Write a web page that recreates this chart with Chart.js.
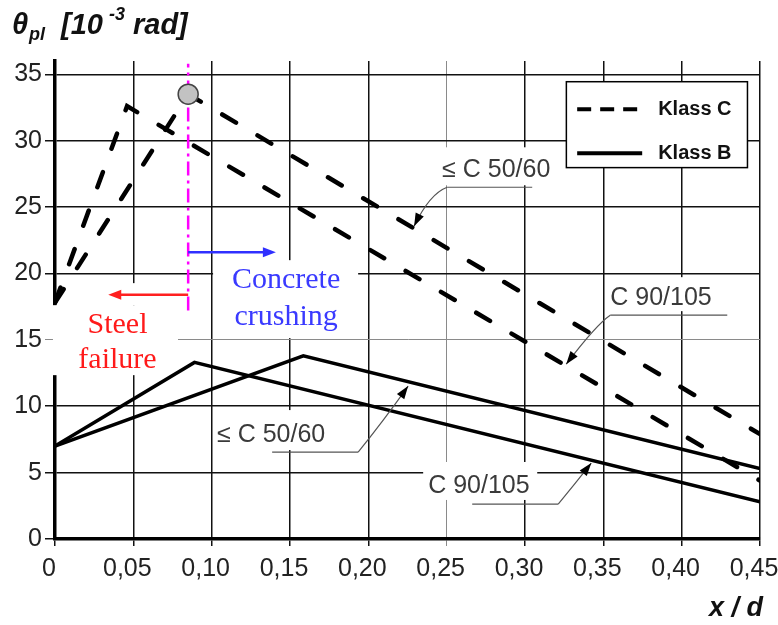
<!DOCTYPE html>
<html lang="en">
<head>
  <meta charset="UTF-8">
  <title>Plastic rotation vs x/d</title>
  <script src="https://cdn.jsdelivr.net/npm/chart.js"></script>
  <style>
    body { margin: 0; padding: 0; background: #fff; }
    canvas { display: block; }
  </style>
</head>
<body>
  <canvas id="chart" width="778" height="625"></canvas>

  <script>
    // Klass C (dashed)
    const xC50 = [0, 0.085, 0.45];
    const yC50 = [17.8, 33.5, 7.9];
    const xC90 = [0, 0.046, 0.45];
    const yC90 = [17.8, 32.6, 4.4];
    // Klass B (solid)
    const xB50 = [0, 0.1585, 0.45];
    const yB50 = [7.0, 13.8, 5.3];
    const xB90 = [0, 0.089, 0.45];
    const yB90 = [7.0, 13.3, 2.8];
    // limit between steel failure and concrete crushing
    const limitX = [0.085, 0.085];
    const limitY = [17.2, 35.8];
    const peakX = [0.085];
    const peakY = [33.5];
    const crushArrowX = [0.085, 0.141];
    const crushArrowY = 21.6;
    const steelArrowX = [0.085, 0.034];
    const steelArrowY = 18.4;

    const xTicks = [0, 0.05, 0.10, 0.15, 0.20, 0.25, 0.30, 0.35, 0.40, 0.45];
    const yTicks = [0, 5, 10, 15, 20, 25, 30, 35];

    const pts = (xs, ys) => xs.map((x, i) => ({ x, y: ys[i] }));

    // white label backgrounds [x0, x1, y0, y1] in data units
    const whiteBoxes = [
      [-0.0013, 0.0785, 12.34, 17.61],
      [0.0255, 0.0785, 17.61, 19.27],
      [0.1009, 0.1935, 15.13, 21.0],
      [0.2446, 0.3225, 26.64, 29.5],
      [0.3519, 0.4259, 17.16, 19.72],
      [0.1009, 0.1820, 6.70, 9.71],
      [0.2350, 0.3078, 2.94, 5.80]
    ];

    const leaders = [
      { text: '\u2264 C 50/60', tx: 0.2471, ty: 27.25, under: [0.2503, 0.3046, 26.49],
        curve: [[0.2503, 26.49], [0.2395, 25.52], [0.2292, 23.56]] },
      { text: 'C 90/105', tx: 0.3544, ty: 17.61, under: [0.3544, 0.4291, 16.86],
        curve: [[0.3544, 16.86], [0.3429, 15.58], [0.3263, 13.17]] },
      { text: '\u2264 C 50/60', tx: 0.1034, ty: 7.30, under: [0.1386, 0.1935, 6.55],
        curve: [[0.1935, 6.55], [0.2095, 8.96], [0.2254, 11.52]] },
      { text: 'C 90/105', tx: 0.2382, ty: 3.46, under: [0.2663, 0.3212, 2.63],
        curve: [[0.3212, 2.63], [0.3321, 4.21], [0.3423, 5.72]] }
    ];

    function arrowHead(ctx, x0, y0, x1, y1, len, half) {
      const a = Math.atan2(y1 - y0, x1 - x0);
      const c = Math.cos(a), s = Math.sin(a);
      ctx.beginPath();
      ctx.moveTo(x1, y1);
      ctx.lineTo(x1 - len * c + half * s, y1 - len * s - half * c);
      ctx.lineTo(x1 - len * c - half * s, y1 - len * s + half * c);
      ctx.closePath();
      ctx.fill();
    }

    const decor = {
      id: 'decor',
      beforeDatasetsDraw(chart) {
        const ctx = chart.ctx, px = v => chart.scales.x.getPixelForValue(v), py = v => chart.scales.y.getPixelForValue(v);
        ctx.save();
        ctx.fillStyle = '#fff';
        whiteBoxes.forEach(b => {
          ctx.fillRect(px(b[0]), py(b[3]), px(b[1]) - px(b[0]), py(b[2]) - py(b[3]));
        });
        ctx.restore();
      },
      afterDatasetsDraw(chart) {
        const ctx = chart.ctx, px = v => chart.scales.x.getPixelForValue(v), py = v => chart.scales.y.getPixelForValue(v);
        ctx.save();

        // failure mode arrows
        ctx.lineWidth = 2.5;
        ctx.strokeStyle = ctx.fillStyle = '#3030ff';
        ctx.beginPath();
        ctx.moveTo(px(crushArrowX[0]), py(crushArrowY));
        ctx.lineTo(px(crushArrowX[1]) - 8, py(crushArrowY));
        ctx.stroke();
        arrowHead(ctx, px(crushArrowX[0]), py(crushArrowY), px(crushArrowX[1]), py(crushArrowY), 13, 5);
        ctx.strokeStyle = ctx.fillStyle = '#ff2020';
        ctx.beginPath();
        ctx.moveTo(px(steelArrowX[0]), py(steelArrowY));
        ctx.lineTo(px(steelArrowX[1]) + 8, py(steelArrowY));
        ctx.stroke();
        arrowHead(ctx, px(steelArrowX[0]), py(steelArrowY), px(steelArrowX[1]), py(steelArrowY), 13, 5);

        // failure mode texts
        ctx.textAlign = 'center';
        ctx.textBaseline = 'alphabetic';
        ctx.font = '30px "Liberation Serif", "Times New Roman", serif';
        ctx.fillStyle = '#3a3aff';
        ctx.fillText('Concrete', px(0.1475), py(18.89));
        ctx.fillText('crushing', px(0.1475), py(16.11));
        ctx.fillStyle = '#ff1a1a';
        ctx.fillText('Steel', px(0.0399), py(15.5));
        ctx.fillText('failure', px(0.0399), py(12.87));

        // concrete class labels with leaders
        ctx.textAlign = 'left';
        ctx.font = '25px "Liberation Sans", Arial, sans-serif';
        leaders.forEach(l => {
          ctx.fillStyle = '#3a3a3a';
          ctx.fillText(l.text, px(l.tx), py(l.ty));
          ctx.strokeStyle = '#555';
          ctx.lineWidth = 1.2;
          ctx.beginPath();
          ctx.moveTo(px(l.under[0]), py(l.under[2]));
          ctx.lineTo(px(l.under[1]), py(l.under[2]));
          ctx.stroke();
          const [a, m, t] = l.curve.map(p => [px(p[0]), py(p[1])]);
          const cx = 2 * m[0] - (a[0] + t[0]) / 2, cy = 2 * m[1] - (a[1] + t[1]) / 2;
          ctx.beginPath();
          ctx.moveTo(a[0], a[1]);
          ctx.quadraticCurveTo(cx, cy, t[0], t[1]);
          ctx.stroke();
          ctx.fillStyle = '#000';
          arrowHead(ctx, cx, cy, t[0], t[1], 13, 4.5);
        });

        // legend
        const lx0 = px(0.3264), lx1 = px(0.4420), ly0 = py(34.44), ly1 = py(27.97);
        ctx.fillStyle = '#fff';
        ctx.fillRect(lx0, ly0, lx1 - lx0, ly1 - ly0);
        ctx.strokeStyle = '#000';
        ctx.lineWidth = 1.5;
        ctx.strokeRect(lx0, ly0, lx1 - lx0, ly1 - ly0);
        ctx.lineWidth = 4;
        ctx.setLineDash([14, 9]);
        ctx.beginPath();
        ctx.moveTo(px(0.3333), py(32.36));
        ctx.lineTo(px(0.3748), py(32.36));
        ctx.stroke();
        ctx.setLineDash([]);
        ctx.beginPath();
        ctx.moveTo(px(0.3333), py(29.05));
        ctx.lineTo(px(0.3748), py(29.05));
        ctx.stroke();
        ctx.fillStyle = '#111';
        ctx.font = 'bold 20px "Liberation Sans", Arial, sans-serif';
        ctx.textBaseline = 'middle';
        ctx.fillText('Klass C', px(0.385), py(32.36));
        ctx.fillText('Klass B', px(0.385), py(29.05));
        ctx.restore();
      },
      afterDraw(chart) {
        const ctx = chart.ctx;
        ctx.save();
        ctx.fillStyle = '#111';
        ctx.textBaseline = 'alphabetic';
        ctx.textAlign = 'left';
        const big = 'italic bold 29px "Liberation Sans", Arial, sans-serif';
        const small = 'italic bold 18px "Liberation Sans", Arial, sans-serif';
        ctx.font = big;
        ctx.fillText('\u03b8', 12, 34);
        ctx.font = small;
        ctx.fillText('pl', 29, 40);
        ctx.font = big;
        ctx.fillText('[10', 61, 34);
        let x = 61 + ctx.measureText('[10').width + 6;
        ctx.font = small;
        ctx.fillText('-3', x, 20);
        x += ctx.measureText('-3').width;
        ctx.font = big;
        ctx.fillText(' rad]', x, 34);
        ctx.font = 'italic bold 27px "Liberation Sans", Arial, sans-serif';
        ctx.fillText('x / d', 709, 616);
        ctx.restore();
      }
    };

    const gridColor = dark => dark ? '#111' : '#8a8a8a';

    new Chart(document.getElementById('chart').getContext('2d'), {
      type: 'line',
      data: {
        datasets: [
          { data: pts(peakX, peakY), showLine: false, pointRadius: 10, pointBackgroundColor: '#c2c2c2',
            pointBorderColor: '#444', pointBorderWidth: 1.5 },
          { data: pts(limitX, limitY), borderColor: '#ff00ff', borderWidth: 2.5, borderDash: [14, 5, 3, 5], pointRadius: 0 },
          { label: 'Klass C', data: pts(xC50, yC50), borderColor: '#000', borderWidth: 4.5, borderDash: [16, 25],
            borderCapStyle: 'round', pointRadius: 0 },
          { label: 'Klass C', data: pts(xC90, yC90), borderColor: '#000', borderWidth: 4.5, borderDash: [16, 25],
            borderCapStyle: 'round', pointRadius: 0 },
          { label: 'Klass B', data: pts(xB50, yB50), borderColor: '#000', borderWidth: 3.5, pointRadius: 0 },
          { label: 'Klass B', data: pts(xB90, yB90), borderColor: '#000', borderWidth: 3.5, pointRadius: 0 }
        ]
      },
      options: {
        responsive: false,
        devicePixelRatio: 1,
        animation: false,
        layout: { padding: { top: 61, right: 18, left: 0, bottom: 0 } },
        plugins: { legend: { display: false }, tooltip: { enabled: false } },
        scales: {
          x: {
            type: 'linear', min: 0, max: 0.45,
            afterBuildTicks: s => { s.ticks = xTicks.map(v => ({ value: v })); },
            afterFit: s => { s.height = 86; s.paddingLeft = 0; s.paddingRight = 0; },
            grid: {
              color: c => gridColor(!(c.tick && Math.abs(c.tick.value - 0.25) < 1e-6)),
              lineWidth: c => (c.tick && Math.abs(c.tick.value - 0.25) < 1e-6) ? 1 : 1.5,
              tickLength: 7
            },
            border: { display: true, color: '#000', width: 3.5 },
            ticks: {
              color: '#222', padding: 8, labelOffset: -6, maxRotation: 0, autoSkip: false,
              font: { family: '"Liberation Sans", Arial, sans-serif', size: 25 },
              callback: v => v === 0 ? '0' : v.toFixed(2).replace('.', ',')
            }
          },
          y: {
            type: 'linear', min: 0, max: 36,
            afterBuildTicks: s => { s.ticks = yTicks.map(v => ({ value: v })); },
            afterFit: s => { s.width = 55; s.paddingTop = 0; s.paddingBottom = 0; },
            grid: {
              color: c => gridColor(!(c.tick && c.tick.value === 15)),
              lineWidth: c => (c.tick && c.tick.value === 15) ? 1 : 1.5,
              tickLength: 10
            },
            border: { display: true, color: '#000', width: 3.5 },
            ticks: {
              color: '#222', padding: 3,
              font: { family: '"Liberation Sans", Arial, sans-serif', size: 25 }
            }
          }
        }
      },
      plugins: [decor]
    });
  </script>
</body>
</html>
